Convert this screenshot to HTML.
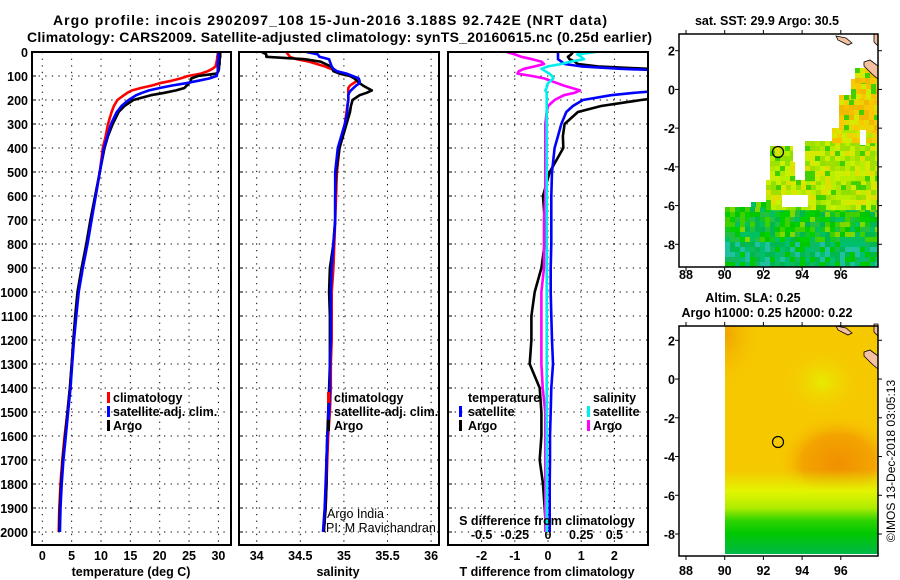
<!DOCTYPE html>
<html><head><meta charset="utf-8"><title>Argo profile</title>
<style>
html,body{margin:0;padding:0;background:#fff;}
svg{display:block;}
text{font-family:"Liberation Sans",Arial,sans-serif;font-weight:bold;font-size:12.5px;fill:#000;}
.n{font-weight:normal;}
</style></head>
<body>
<svg id="chart" width="900" height="580" viewBox="0 0 900 580" xmlns="http://www.w3.org/2000/svg">
<defs>
<clipPath id="c1"><rect x="32" y="52" width="199" height="493"/></clipPath>
<clipPath id="c2"><rect x="239" y="52" width="200" height="493"/></clipPath>
<clipPath id="c3"><rect x="448" y="52" width="200" height="493"/></clipPath>
<clipPath id="cm1"><rect x="679" y="34" width="199" height="233"/></clipPath>
<clipPath id="cm2"><rect x="725" y="326" width="153" height="230"/></clipPath>
<radialGradient id="blob" cx="0.5" cy="0.5" r="0.5"><stop offset="0" stop-color="#f09000"/><stop offset="0.6" stop-color="#f3a400"/><stop offset="1" stop-color="#f7c400" stop-opacity="0"/></radialGradient>
<radialGradient id="light" cx="0.5" cy="0.5" r="0.5"><stop offset="0" stop-color="#e6ec00"/><stop offset="1" stop-color="#f6cc00" stop-opacity="0"/></radialGradient>
<radialGradient id="tl" cx="0.3" cy="0.3" r="0.7"><stop offset="0" stop-color="#f0a400"/><stop offset="1" stop-color="#f6c400" stop-opacity="0"/></radialGradient>
<linearGradient id="bot" x1="0" y1="0" x2="0" y2="1"><stop offset="0" stop-color="#e0f000" stop-opacity="0"/><stop offset="0.25" stop-color="#e4f400"/><stop offset="0.45" stop-color="#b0ec00"/><stop offset="0.6" stop-color="#30d400"/><stop offset="0.75" stop-color="#00c800"/><stop offset="1" stop-color="#00b848"/></linearGradient>
</defs>

<text x="53" y="25" textLength="554" style="font-size:14px">Argo profile: incois 2902097_108 15-Jun-2016 3.188S 92.742E (NRT data)</text>
<text x="27" y="42" textLength="625" style="font-size:14px">Climatology: CARS2009. Satellite-adjusted climatology: synTS_20160615.nc (0.25d earlier)</text>

<g id="grid"></g>
<g id="ticks"></g>
<g id="series"></g>

<rect x="32" y="52" width="199" height="493" fill="none" stroke="#000" stroke-width="2"/>
<rect x="239" y="52" width="200" height="493" fill="none" stroke="#000" stroke-width="2"/>
<rect x="448" y="52" width="200" height="493" fill="none" stroke="#000" stroke-width="2"/>

<text x="131" y="576" text-anchor="middle">temperature (deg C)</text>
<text x="338" y="576" text-anchor="middle">salinity</text>
<text x="547" y="576" text-anchor="middle">T difference from climatology</text>
<text x="547" y="525" text-anchor="middle">S difference from climatology</text>

<g>
<rect x="107" y="392" width="3" height="11" fill="#f00"/>
<text x="113" y="402">climatology</text>
<rect x="107" y="406" width="3" height="11" fill="#00f"/>
<text x="113" y="416">satellite-adj. clim.</text>
<rect x="107" y="420" width="3" height="11" fill="#000"/>
<text x="113" y="430">Argo</text>
</g>
<g>
<rect x="327" y="392" width="3" height="11" fill="#f00"/>
<text x="334" y="402">climatology</text>
<rect x="327" y="406" width="3" height="11" fill="#00f"/>
<text x="334" y="416">satellite-adj. clim.</text>
<rect x="327" y="420" width="3" height="11" fill="#000"/>
<text x="334" y="430">Argo</text>
<text class="n" x="327" y="518">Argo India</text>
<text class="n" x="326" y="532">PI: M Ravichandran</text>
</g>
<g>
<text x="468" y="402">temperature</text>
<rect x="459" y="406" width="3" height="11" fill="#00f"/>
<text x="468" y="416">satellite</text>
<rect x="459" y="420" width="3" height="11" fill="#000"/>
<text x="468" y="430">Argo</text>
<text x="593" y="402">salinity</text>
<rect x="587" y="406" width="3" height="11" fill="#0ee"/>
<text x="593" y="416">satellite</text>
<rect x="587" y="420" width="3" height="11" fill="#f0f"/>
<text x="593" y="430">Argo</text>
</g>

<!-- maps -->
<text x="767" y="25" text-anchor="middle">sat. SST: 29.9 Argo: 30.5</text>
<g id="sstmap" clip-path="url(#cm1)"></g>
<text x="753" y="302" text-anchor="middle">Altim. SLA: 0.25</text>
<text x="767" y="317" text-anchor="middle">Argo h1000: 0.25 h2000: 0.22</text>
<g clip-path="url(#cm2)">
<rect x="725" y="326" width="153" height="228" fill="#f6c800"/>
<ellipse cx="822" cy="382" rx="40" ry="35" fill="url(#light)"/>
<ellipse cx="736" cy="350" rx="25" ry="40" fill="url(#tl)"/>
<ellipse cx="838" cy="463" rx="60" ry="48" fill="url(#blob)"/>
<rect x="725" y="470" width="153" height="84" fill="url(#bot)"/>
</g>
<g id="land"></g>
<g id="mapaxes"></g>
<circle cx="778" cy="152" r="5.5" fill="none" stroke="#000" stroke-width="1.2"/>
<circle cx="778" cy="442" r="5.5" fill="none" stroke="#000" stroke-width="1.2"/>
<text class="n" transform="translate(895,461) rotate(-90)" text-anchor="middle" style="font-size:12px">©IMOS 13-Dec-2018 03:05:13</text>
</svg>
<script>
// ---- data ----
const depths = [0,10,20,30,40,50,60,70,80,90,100,110,120,130,140,150,160,170,180,200,225,250,300,350,400,500,600,700,800,900,1000,1100,1200,1300,1400,1500,1600,1700,1800,1900,2000];
const argoTemp = [30.3,30.3,30.3,30.2,30.2,30.2,30.1,30.1,30.0,29.7,26.5,25.4,25.3,25.0,24.6,24.2,22.8,20.8,18.5,15.5,14.0,13.0,12.0,11.2,10.6,9.8,9.0,8.2,7.5,6.7,6.0,5.6,5.3,5.0,4.7,4.3,3.9,3.5,3.2,3.0,2.9];
const climTemp = [29.9,29.9,29.8,29.8,29.7,29.6,29.5,29.0,28.2,27.0,24.8,23.6,22.0,20.0,18.6,16.8,15.3,14.5,13.9,12.8,12.2,11.8,11.2,10.8,10.3,9.8,9.1,8.3,7.6,6.8,6.1,5.7,5.3,5.0,4.7,4.3,3.8,3.4,3.1,2.9,2.8];
const satTemp = [30.0,30.0,30.0,30.0,29.9,29.9,29.9,29.9,29.9,29.8,29.7,28.5,26.5,24.5,22.0,20.0,18.2,17.0,16.0,14.7,13.5,12.7,11.7,11.1,10.5,9.8,9.1,8.4,7.7,6.9,6.2,5.8,5.4,5.1,4.8,4.4,4.0,3.6,3.3,3.1,3.0];
const argoSal = [34.06,34.11,34.11,34.55,34.73,34.79,34.85,34.87,34.88,34.95,35.07,35.12,35.15,35.18,35.22,35.27,35.32,35.26,35.18,35.1,35.08,35.07,35.03,34.99,34.95,34.91,34.9,34.9,34.88,34.84,34.83,34.84,34.84,34.84,34.83,34.82,34.81,34.8,34.8,34.79,34.77];
const climSal = [34.34,34.36,34.38,34.46,34.6,34.69,34.78,34.85,34.92,35.0,35.07,35.12,35.15,35.11,35.07,35.05,35.05,35.05,35.05,35.05,35.04,35.03,35.01,34.98,34.95,34.92,34.91,34.9,34.89,34.88,34.86,34.86,34.86,34.85,34.85,34.84,34.82,34.81,34.8,34.79,34.77];
const satSal = [34.57,34.70,34.72,34.83,34.84,34.85,34.86,34.88,34.92,35.03,35.1,35.17,35.18,35.18,35.14,35.11,35.08,35.06,35.05,35.05,35.04,35.04,35.01,34.97,34.93,34.9,34.9,34.9,34.88,34.86,34.85,34.85,34.85,34.84,34.84,34.83,34.81,34.8,34.79,34.78,34.76];
const dTsat = [0.3,0.3,0.3,0.3,0.4,0.5,1.0,2.2,4,4,4,4,4,4,4,4,3.5,2.6,1.9,1.05,0.75,0.55,0.4,0.3,0.2,0.12,0.1,0.1,0.1,0.08,0.08,0.1,0.12,0.15,0.1,0.08,0.06,0.06,0.05,0.05,0.05];
const dTargo = [0.75,0.7,0.6,0.65,0.8,0.9,1.5,3.0,4,4,4,4,4,4,4,4,4,4,4,2.8,1.6,0.9,0.5,0.45,0.46,0.05,-0.15,-0.1,-0.1,-0.2,-0.4,-0.5,-0.5,-0.55,-0.25,-0.2,-0.2,-0.25,-0.15,-0.1,-0.05];
const dSargo = [-0.31,-0.25,-0.2,-0.12,-0.05,-0.03,-0.1,-0.18,-0.22,-0.23,-0.12,-0.03,0.02,0.07,0.12,0.18,0.24,0.2,0.12,0.05,0.0,-0.01,-0.02,-0.02,-0.02,-0.02,-0.02,-0.03,-0.03,-0.03,-0.05,-0.05,-0.05,-0.05,-0.04,-0.02,-0.02,-0.02,-0.02,-0.02,-0.02];
const dSsat = [0.36,0.22,0.25,0.27,0.17,0.1,0.0,-0.05,-0.02,0.01,0.03,0.04,0.02,0.0,-0.01,-0.01,-0.02,-0.01,-0.01,-0.01,-0.01,-0.01,-0.01,-0.01,-0.01,-0.01,-0.01,-0.01,-0.01,-0.01,-0.01,-0.01,-0.01,-0.01,-0.01,-0.01,-0.01,-0.01,-0.01,-0.01,-0.01];
const depthTicks = [0,100,200,300,400,500,600,700,800,900,1000,1100,1200,1300,1400,1500,1600,1700,1800,1900,2000];
const tempTicks = [0,5,10,15,20,25,30];
const salTicks = [34,34.5,35,35.5,36];
const dTTicks = [-2,-1,0,1,2];
const dTTickLabels = ["-2","-1","0","1","2"];
const dSTicks = [-0.5,-0.25,0,0.25,0.5];
const dSTickLabels = ["-0.5","-0.25","0","0.25","0.5"];
const lonTicks = [88,90,92,94,96];
const latTicks = [2,0,-2,-4,-6,-8];

// ---- scales ----
const yD = d => 52 + 0.24*d;
const xT = t => 42.3 + 5.87*t;
const xS = s => 256.7 + 87.2*(s-34);
const xDT = v => 548 + 33.2*v;
const xDS = v => 548 + 132.8*v;
const mx = lon => 686 + 19.35*(lon-88);
const my1 = lat => 50.7 + (2-lat)*19.36;
const my2 = lat => 340.3 + (2-lat)*19.37;

const NS = "http://www.w3.org/2000/svg";
function mk(tag, attrs, parent){ const e=document.createElementNS(NS,tag); for(const k in attrs) e.setAttribute(k,attrs[k]); parent.appendChild(e); return e; }
const grid = document.getElementById('grid');
const ticks = document.getElementById('ticks');
const series = document.getElementById('series');
const dash = {stroke:"#000","stroke-width":1,"stroke-dasharray":"1.3,5.3",fill:"none"};

const panels = [[32,231],[239,439],[448,648]];
depthTicks.forEach(d=>{
  panels.forEach(p=>{
    const l = mk('line',Object.assign({x1:p[0],x2:p[1],y1:yD(d),y2:yD(d)},dash),grid);
    
    
    const tk = mk('line',{x1:p[0],x2:p[0]+4,y1:yD(d),y2:yD(d),stroke:"#000","stroke-width":1},grid);
    
    
  });
  const t = mk('text',{x:28,y:yD(d)+5,"text-anchor":"end"},ticks);
  t.textContent = d;
  
  
});
function xgrid(vals, fx, labels, ly, name){
  vals.forEach((v,i)=>{
    const l = mk('line',Object.assign({x1:fx(v),x2:fx(v),y1:52,y2:545},dash),grid);
    
    
    if(labels){
      const t = mk('text',{x:fx(v),y:ly,"text-anchor":"middle"},ticks);
      t.textContent = labels[i];
      
      
    }
  });
}
xgrid(tempTicks, xT, tempTicks.map(String), 560, 'temperature');
xgrid(salTicks, xS, salTicks.map(String), 560, 'salinity');
xgrid(dTTicks, xDT, dTTickLabels, 560, 't-difference');
dSTicks.forEach((v,i)=>{
  const t = mk('text',{x:xDS(v),y:539,"text-anchor":"middle"},ticks);
  t.textContent = dSTickLabels[i];
  
  
});

function line(vals, fx, color, clip, name){
  const pts = vals.map((v,i)=>fx(v).toFixed(1)+','+yD(depths[i]).toFixed(1)).join(' ');
  const pl = mk('polyline',{points:pts,fill:"none",stroke:color,"stroke-width":2.6,"stroke-linejoin":"round","clip-path":"url(#"+clip+")"},series);
  
  
}
line(climTemp, xT, '#f00','c1','temperature-climatology-line');
line(argoTemp, xT, '#000','c1','temperature-argo-line');
line(satTemp, xT, '#00f','c1','temperature-satellite-line');
line(climSal, xS, '#f00','c2','salinity-climatology-line');
line(argoSal, xS, '#000','c2','salinity-argo-line');
line(satSal, xS, '#00f','c2','salinity-satellite-line');
line(dTargo, xDT, '#000','c3','t-difference-argo-line');
line(dTsat, xDT, '#00f','c3','t-difference-satellite-line');
line(dSargo, xDS, '#f0f','c3','s-difference-argo-line');
line(dSsat, xDS, '#0ee','c3','s-difference-satellite-line');

// ---- SST map cells ----
const sst = document.getElementById('sstmap');
const regions = [
  [725,207,878,267,'g'],[751,202,770,207,'g'],[766,180,878,207,'yg'],
  [770,146,793,180,'yg'],[805,141,878,180,'yg'],[832,128,878,141,'yo'],
  [839,95,878,128,'o'],[851,79,878,95,'o'],[855,68,878,79,'o']
];
const pal = {
  g:['#00c800','#10c820','#40d000','#00b850','#00c060','#80d800','#00d000','#20c040'],
  yg:['#b8ee00','#c8f000','#a0e000','#d8e800','#b0e800','#90e000','#40d000','#e0e000'],
  yo:['#d8e800','#f0d000','#c8f000','#f8c000','#e8d800','#b0e800'],
  o:['#f8c800','#f0d000','#e8d800','#f8c000','#d8e800','#f0b800','#40d000']
};
function h(i,j){ let x=(i*374761393 + j*668265263)>>>0; x=(x^(x>>>13))*1274126177>>>0; return (x^(x>>>16))>>>0; }
regions.forEach(r=>{
  for(let x=r[0]; x<r[2]; x+=5){
    for(let y=r[1]; y<r[3]; y+=5){
      let p = pal[r[4]];
      if(r[4]==='g' && y>240) p=['#00b850','#00c070','#10b860','#00c800','#20c0a0'];
      const c = p[h(x,y)%p.length];
      const cell = mk('rect',{x:x,y:y,width:5.2,height:5.2,fill:c},sst);
      
      
    }
  }
});
// white gaps
[[782,195,808,207],[725,202,751,207],[793,141,805,162],[860,130,866,145]].forEach(g=>{
  const w = mk('rect',{x:g[0],y:g[1],width:g[2]-g[0],height:g[3]-g[1],fill:'#fff'},sst);
  
  
});

// ---- land + map axes ----
const land = document.getElementById('land');
[[0,0],[290,290]].forEach(o=>{
  const p1 = mk('path',{d:`M836 ${36+o[1]} L846 ${38+o[1]} L852 ${43+o[1]} L848 ${45+o[1]} L838 ${40+o[1]} Z`,fill:'#f5c0a0',stroke:'#000','stroke-width':0.8},land);
   
  const p2 = mk('path',{d:`M864 ${62+o[1]} L870 ${60+o[1]} L878 ${66+o[1]} L878 ${79+o[1]} L872 ${74+o[1]} L864 ${66+o[1]} Z`,fill:'#f5c0a0',stroke:'#000','stroke-width':0.8},land);
   
  const p3 = mk('path',{d:`M874 ${34+o[1]} L878 ${34+o[1]} L878 ${46+o[1]} L874 ${42+o[1]} Z`,fill:'#f5c0a0',stroke:'#000','stroke-width':0.8},land);
   
});
const ma = document.getElementById('mapaxes');
[[34,267,my1,279],[326,556,my2,575]].forEach(m=>{
  const fr = mk('rect',{x:679,y:m[0],width:199,height:m[1]-m[0],fill:'none',stroke:'#000','stroke-width':1.5},ma);
   
  lonTicks.forEach(lon=>{
    const t = mk('text',{x:mx(lon),y:m[3],"text-anchor":"middle"},ma);
    t.textContent = lon;
     
    const tk = mk('line',{x1:mx(lon),x2:mx(lon),y1:m[0],y2:m[0]-4,stroke:'#000'},ma);
     
    const tb = mk('line',{x1:mx(lon),x2:mx(lon),y1:m[1],y2:m[1]+4,stroke:'#000'},ma);
     
  });
  latTicks.forEach(lat=>{
    const t = mk('text',{x:675,y:m[2](lat)+5,"text-anchor":"end"},ma);
    t.textContent = lat;
     
    const tk = mk('line',{x1:675,x2:679,y1:m[2](lat),y2:m[2](lat),stroke:'#000'},ma);
     
    const tr = mk('line',{x1:878,x2:882,y1:m[2](lat),y2:m[2](lat),stroke:'#000'},ma);
     
  });
});
</script>
</body></html>
